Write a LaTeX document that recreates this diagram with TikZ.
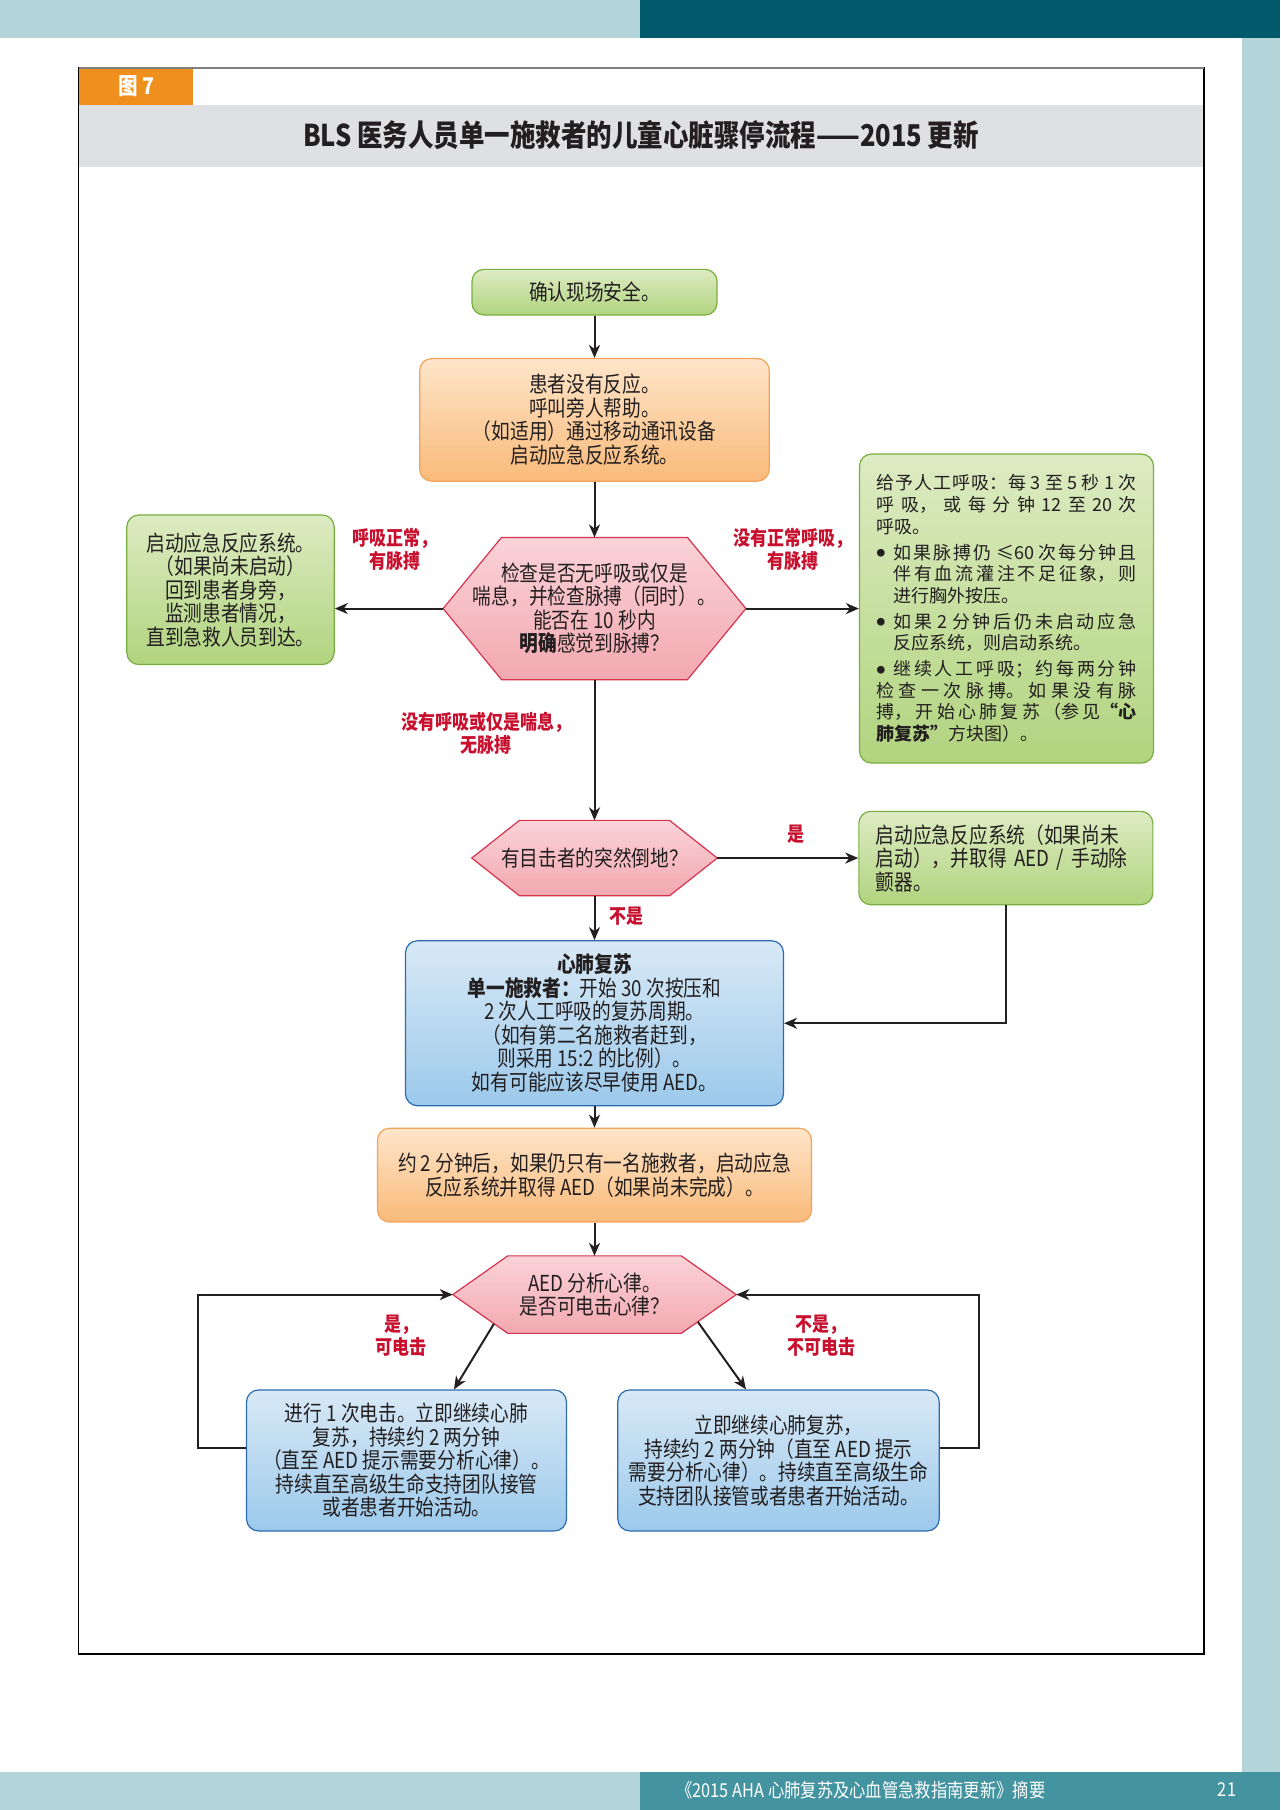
\documentclass[tikz,border=0pt]{standalone}
\usepackage{fontspec}
\setmainfont{Noto Sans CJK SC}[FakeStretch=0.85]
\newfontfamily\widecjk{Noto Sans CJK SC}
\usetikzlibrary{positioning,arrows.meta,backgrounds,calc}

\XeTeXlinebreaklocale "zh"
\XeTeXlinebreakskip=0pt plus 3pt

\definecolor{pageteal}{HTML}{B3D5D9}
\definecolor{pagedeep}{HTML}{005A6B}
\definecolor{pagemid}{HTML}{4393A0}
\definecolor{tagorange}{HTML}{EE8F1E}
\definecolor{bandgray}{HTML}{DFE0E2}
\definecolor{inkgray}{HTML}{231F20}
\definecolor{cuered}{HTML}{C8102E}
\definecolor{greentop}{HTML}{DDEBC2}
\definecolor{greenbot}{HTML}{B1D47F}
\definecolor{greenline}{HTML}{78AE42}
\definecolor{orangetop}{HTML}{FEE5CA}
\definecolor{orangebot}{HTML}{F9BA79}
\definecolor{orangeline}{HTML}{F2A35A}
\definecolor{pinktop}{HTML}{FAD3D8}
\definecolor{pinkbot}{HTML}{F3A8B0}
\definecolor{pinkline}{HTML}{D6334E}
\definecolor{bluetop}{HTML}{D8E9F6}
\definecolor{bluebot}{HTML}{9CC9EB}
\definecolor{blueline}{HTML}{2C6BB0}

\newcommand\boxfont{\fontsize{11}{11.75}\selectfont}
\newcommand\notefont{\widecjk\fontsize{9}{10.85}\selectfont}
\newcommand\cuefont{\bfseries\fontsize{10}{11.5}\selectfont}
\newcommand\notedot{\makebox[8.5pt][l]{\raisebox{1.2pt}{\fontsize{4.3}{5}\selectfont ●}}}

\tikzset{
  flowbox/.style={rectangle, rounded corners=6pt, line width=0.6pt, align=center, inner sep=3pt, text=inkgray, font=\boxfont},
  greenbox/.style={flowbox, draw=greenline, top color=greentop, bottom color=greenbot},
  orangebox/.style={flowbox, draw=orangeline, top color=orangetop, bottom color=orangebot},
  bluebox/.style={flowbox, draw=blueline, top color=bluetop, bottom color=bluebot},
  hexbox/.style={rectangle, align=center, inner sep=0pt, text=inkgray, font=\boxfont},
  hexfill/.style={draw=pinkline, line width=0.6pt, top color=pinktop, bottom color=pinkbot},
  flow/.style={draw=inkgray, line width=1pt, -{Stealth[length=6.5pt,width=5.5pt,inset=2pt]}},
  cue/.style={text=cuered, font=\cuefont, align=center},
}

\begin{document}
\begin{tikzpicture}[x=0.5pt,y=-0.5pt]
\useasboundingbox (0,0) rectangle (1280,1810);
% page bands
\fill[pageteal] (0,0) rectangle (640,38);
\fill[pagedeep] (640,0) rectangle (1280,38);
\fill[pageteal] (1242,38) rectangle (1280,1772);
\fill[pageteal] (0,1772) rectangle (640,1810);
\fill[pagemid] (640,1772) rectangle (1280,1810);
% frame and heading
\fill[tagorange] (78.5,68) rectangle (192.5,105);
\fill[bandgray] (78.5,105) rectangle (1204,167);
\draw[line width=0.6pt] (78.5,68) rectangle (1204,1654);
\draw[line width=1.4pt, draw=gray] (78.5,68) -- (1204,68);
\node[text=white, font=\bfseries\fontsize{11.5}{13}\selectfont] (figtag) at (136.5,86.5) {图 7};
\node[text=inkgray, font=\bfseries\fontsize{15}{17}\selectfont] (title) at (641,135) {BLS 医务人员单一施救者的儿童心脏骤停流程——2015 更新};
\node[text=white, font=\fontsize{9.6}{11}\selectfont] (footer) at (861,1790) {《2015 AHA 心肺复苏及心血管急救指南更新》摘要};
\node[text=white, font=\fontsize{9.6}{11}\selectfont] (pageno) at (1227,1790) {21};

% main column
\node[greenbox, minimum width=122.5pt, minimum height=22.85pt] (safe) at (594.5,292.2) {确认现场安全。};
\node[orangebox, below=21.15pt of safe, minimum width=174.8pt, minimum height=61.3pt] (unresp)
  {患者没有反应。\\呼叫旁人帮助。\\（如适用）通过移动通讯设备\\启动应急反应系统。};
\node[hexbox, below=27.85pt of unresp, minimum width=151pt, minimum height=70.7pt] (check)
  {检查是否无呼吸或仅是\\喘息，并检查脉搏（同时）。\\能否在 10 秒内\\\textbf{明确}感觉到脉搏？};
\node[greenbox, left=54.15pt of check, yshift=9.4pt, minimum width=103.7pt, minimum height=74.8pt] (normal)
  {启动应急反应系统。\\（如果尚未启动）\\回到患者身旁，\\监测患者情况，\\直到急救人员到达。};
\node[greenbox, right=56.5pt of check, minimum width=147pt, minimum height=154.5pt, text width=130pt,
  inner xsep=8.5pt, align=justify, font=\notefont] (rescue)
  {\setlength\parskip{2pt}\setlength\parindent{0pt}%
  给予人工呼吸：每 3 至 5 秒 1 次\linebreak 呼吸，或每分钟 12 至 20 次\linebreak 呼吸。\par
  \hangindent=8.5pt\hangafter=1\notedot 如果脉搏仍 ≤60 次每分钟且\linebreak 伴有血流灌注不足征象，则\linebreak 进行胸外按压。\par
  \hangindent=8.5pt\hangafter=1\notedot 如果 2 分钟后仍未启动应急\linebreak 反应系统，则启动系统。\par
  \hangindent=8.5pt\hangafter=1\notedot 继续人工呼吸；约每两分钟\linebreak 检查一次脉搏。如果没有脉\linebreak 搏，开始心肺复苏（参见\textbf{“心}\linebreak \textbf{肺复苏”}方块图）。};
\node[hexbox, below=70.35pt of check, minimum width=122.35pt, minimum height=37.3pt] (witness) {有目击者的突然倒地？};
\node[greenbox, right=70.5pt of witness, minimum width=147pt, minimum height=46.7pt, text width=130pt,
  inner xsep=8.5pt, align=left] (aedget)
  {启动应急反应系统（如果尚未\\启动），并取得 AED / 手动除\\颤器。};
\node[bluebox, below=22.2pt of witness, minimum width=189pt, minimum height=82.5pt] (cpr)
  {\textbf{心肺复苏}\\\textbf{单一施救者：}开始 30 次按压和\\2 次人工呼吸的复苏周期。\\（如有第二名施救者赶到，\\则采用 15:2 的比例）。\\如有可能应该尽早使用 AED。};
\node[orangebox, below=10.65pt of cpr, minimum width=217pt, minimum height=46.85pt] (twomin)
  {约 2 分钟后，如果仍只有一名施救者，启动应急\\反应系统并取得 AED（如果尚未完成）。};
\node[hexbox, below=16.65pt of twomin, minimum width=141.35pt, minimum height=38.35pt] (rhythm)
  {AED 分析心律。\\是否可电击心律？};
\node[bluebox, below=28pt of rhythm, xshift=-94pt, minimum width=160pt, minimum height=70.5pt] (shock)
  {进行 1 次电击。立即继续心肺\\复苏，持续约 2 两分钟\\（直至 AED 提示需要分析心律）。\\持续直至高级生命支持团队接管\\或者患者开始活动。};
\node[bluebox, below=28pt of rhythm, xshift=92pt, minimum width=160.7pt, minimum height=70.5pt] (noshock)
  {立即继续心肺复苏，\\持续约 2 两分钟（直至 AED 提示\\需要分析心律）。持续直至高级生命\\支持团队接管或者患者开始活动。};

% hexagons behind their text
\begin{scope}[on background layer]
\foreach \hex/\cut in {check/29.2pt, witness/23.85pt, rhythm/27.5pt}
  \path[hexfill] (\hex.west) -- ([xshift=\cut]\hex.north west) -- ([xshift=-\cut]\hex.north east)
    -- (\hex.east) -- ([xshift=-\cut]\hex.south east) -- ([xshift=\cut]\hex.south west) -- cycle;
\end{scope}

% red cues
\node[cue] (cuenormal) at (395,549.5) {呼吸正常，\\有脉搏};
\node[cue] (cuerescue) at (793,549.5) {没有正常呼吸，\\有脉搏};
\node[cue] (cuenobreath) at (486,733) {没有呼吸或仅是喘息，\\无脉搏};
\node[cue] (cueyes) at (796,834) {是};
\node[cue] (cueno) at (626,916) {不是};
\node[cue] (cueshock) at (401,1336) {是，\\可电击};
\node[cue] (cuenoshock) at (821,1336) {不是，\\不可电击};

% connectors
\coordinate (loopleft) at ([xshift=-24pt,yshift=6pt]shock.west);
\coordinate (loopright) at ([xshift=19.4pt,yshift=6pt]noshock.east);
\draw[flow] (safe.south) -- (unresp.north);
\draw[flow] (unresp.south) -- (check.north);
\draw[flow] (check.west) -- (check.west -| normal.east);
\draw[flow] (check.east) -- (check.east -| rescue.west);
\draw[flow] (check.south) -- (witness.north);
\draw[flow] (witness.east) -- (witness.east -| aedget.west);
\draw[flow] (witness.south) -- (cpr.north);
\draw[flow] (aedget.south) |- (cpr.east);
\draw[flow] (cpr.south) -- (twomin.north);
\draw[flow] (twomin.south) -- (rhythm.north);
\draw[flow] ($(rhythm.west)!0.75!([xshift=27.5pt]rhythm.south west)$) -- ([xshift=23.75pt]shock.north);
\draw[flow] ($(rhythm.east)!0.7!([xshift=-27.5pt]rhythm.south east)$) -- ([xshift=-16.25pt]noshock.north);
\draw[flow] ([yshift=6pt]shock.west) -- (loopleft) |- (rhythm.west);
\draw[flow] ([yshift=6pt]noshock.east) -- (loopright) |- (rhythm.east);
\end{tikzpicture}
\end{document}
